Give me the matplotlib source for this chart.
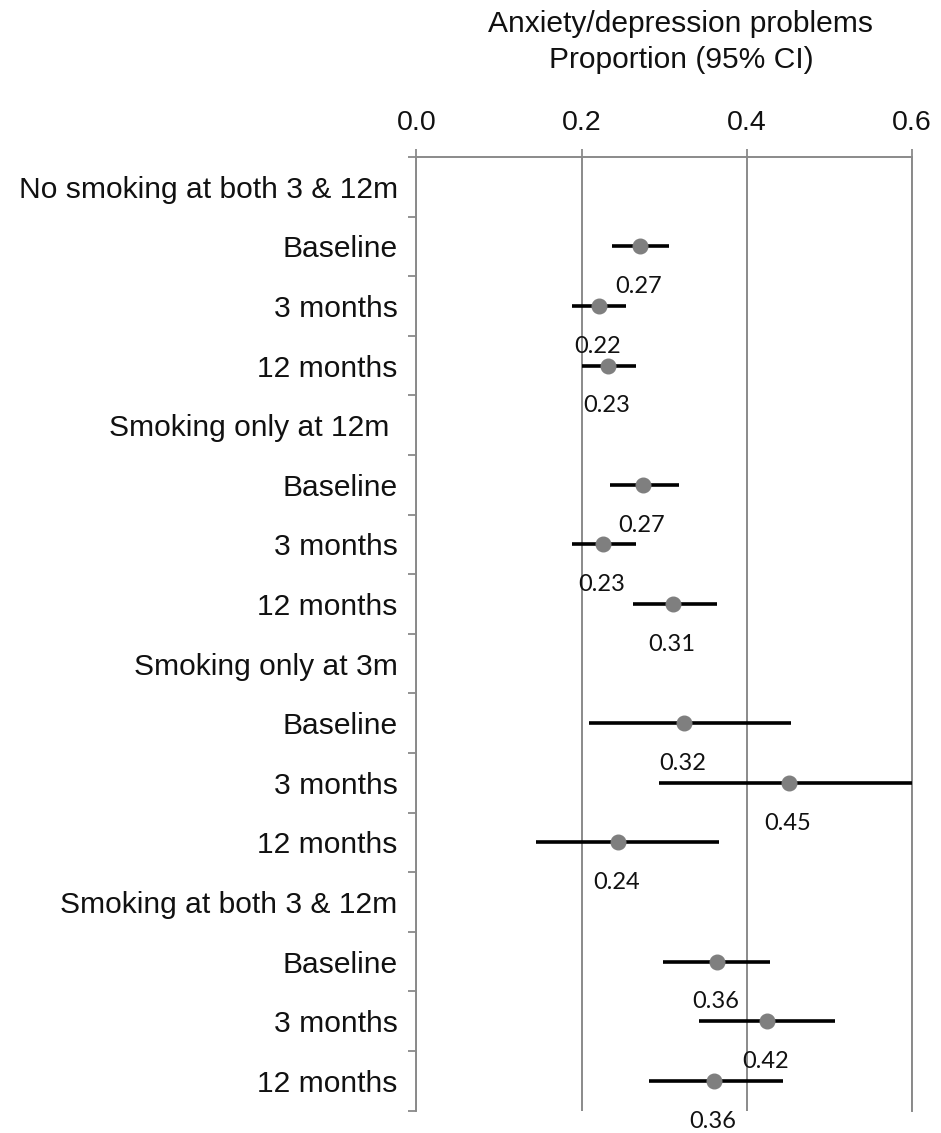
import matplotlib
matplotlib.use("Agg")
import matplotlib.pyplot as plt
import numpy as np

# Data
groups = ["No smoking at both 3 & 12m", "Smoking only at 12m ", "Smoking only at 3m", "Smoking at both 3 & 12m"]
timepoints = ["Baseline", "3 months", "12 months"]
proportion = [0.271, 0.221, 0.232, 0.274, 0.2265, 0.311, 0.324, 0.452, 0.244, 0.364, 0.4245, 0.361]
ci_low = [0.237, 0.189, 0.200, 0.2345, 0.189, 0.263, 0.2095, 0.294, 0.1444, 0.299, 0.342, 0.2815]
ci_high = [0.306, 0.254, 0.266, 0.3186, 0.266, 0.3646, 0.454, 0.600, 0.367, 0.429, 0.507, 0.4436]
point_labels = ["0.27", "0.22", "0.23", "0.27", "0.23", "0.31", "0.32", "0.45", "0.24", "0.36", "0.42", "0.36"]
x_ticks = [0.0, 0.2, 0.4, 0.6]

plt.rcParams['font.family'] = ['Liberation Sans', 'DejaVu Sans']

# row layout: header row then three timepoint rows per group
row_labels = []
y_points = []
for g, name in enumerate(groups):
    row_labels.append(name)
    for t, tp in enumerate(timepoints):
        row_labels.append(tp)
        y_points.append(4 * g + t + 1)
n_rows = len(row_labels)
row_pos = np.arange(n_rows)

grid_col = '#8a8a8a'

fig = plt.figure(figsize=(9.41, 11.33), dpi=100)
ax = fig.add_axes([0.4426, 0.0197, 0.5261, 0.8417])

ax.set_xlim(0, 0.6)
ax.set_ylim(n_rows - 0.5, -0.5)

# confidence intervals and point estimates
ax.hlines(y_points, ci_low, ci_high, color='black', linewidth=2.6, zorder=3)
ax.plot(proportion, y_points, 'o', color='#7f7f7f', markersize=10.5, zorder=4, linestyle='none')

for x, y, lab in zip(proportion, y_points, point_labels):
    ax.annotate(lab, (x, y), xytext=(-1, -29), textcoords='offset points',
                ha='center', va='center', fontsize=17, family=['Lato', 'DejaVu Sans'],
                color='#111111', zorder=5)

# x axis on top
ax.xaxis.tick_top()
ax.set_xticks(x_ticks)
ax.set_xticklabels([f"{v:.1f}" for v in x_ticks])
ax.tick_params(axis='x', direction='out', length=5.8, width=1.3, color=grid_col,
               pad=9, labelsize=20.5, labelcolor='#111111')
ax.grid(axis='x', color=grid_col, linewidth=1.4)

# y axis: ticks at row boundaries, labels at row centres
ax.set_yticks(np.arange(-0.5, n_rows, 1.0))
ax.set_yticklabels([])
ax.set_yticks(row_pos, labels=row_labels, minor=True)
ax.tick_params(axis='y', which='major', direction='out', length=5.8, width=1.3, color=grid_col)
ax.tick_params(axis='y', which='minor', length=0, pad=13.5, labelsize=21.6, labelcolor='#111111')

ax.spines['bottom'].set_visible(False)
for side in ['top', 'left', 'right']:
    ax.spines[side].set_color(grid_col)
    ax.spines[side].set_linewidth(1.4)

fig.text(681 / 941, 1 - 24 / 1133, "Anxiety/depression problems", ha='center', va='center',
         fontsize=21.6, color='#111111')
fig.text(681 / 941, 1 - 60.5 / 1133, "Proportion (95% CI)", ha='center', va='center',
         fontsize=21.6, color='#111111')

fig.savefig("out.png", dpi=100)
